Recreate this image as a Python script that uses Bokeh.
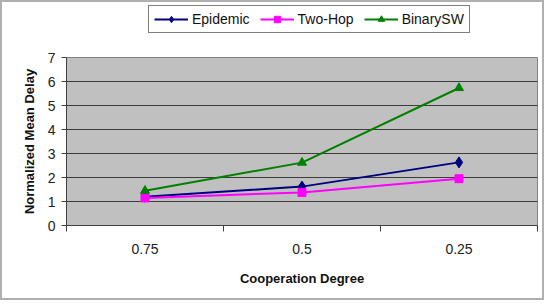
from bokeh.plotting import figure
from bokeh.layouts import column
from bokeh.models import Range1d, FixedTicker, Legend, LegendItem
from bokeh.embed import file_html
from bokeh.resources import INLINE

categories = ["0.75", "0.5", "0.25"]
series_names = ["Epidemic", "Two-Hop", "BinarySW"]
epidemic = [1.2, 1.62, 2.63]
two_hop = [1.15, 1.38, 1.95]
binary_sw = [1.45, 2.62, 5.73]

colors = ["#000080", "#ff00ff", "#008000"]
markers = ["diamond", "square", "triangle"]
msizes = [11, 8, 9]

xs = [i + 0.5 for i in range(len(categories))]
series = [epidemic, two_hop, binary_sw]

# main chart
p = figure(width=540, height=257, output_backend="svg", toolbar_location=None,
           x_range=Range1d(0, len(categories)), y_range=Range1d(0, 7),
           min_border_left=64, min_border_right=5, min_border_top=16, min_border_bottom=73)
p.background_fill_color = "#c0c0c0"
p.border_fill_color = "white"
p.outline_line_color = "#808080"

p.xgrid.visible = False
p.ygrid.grid_line_color = "#3c3c3c"
p.ygrid.grid_line_width = 1

p.yaxis.ticker = FixedTicker(ticks=list(range(0, 8)))
p.xaxis.ticker = FixedTicker(ticks=xs, minor_ticks=list(range(0, len(categories) + 1)))
p.xaxis.major_label_overrides = {x: c for x, c in zip(xs, categories)}
p.xaxis.major_tick_out = 0
p.xaxis.major_tick_in = 0
p.xaxis.minor_tick_out = 6
p.xaxis.minor_tick_in = 0
p.yaxis.major_tick_out = 5
p.yaxis.major_tick_in = 0
for ax in (p.xaxis, p.yaxis):
    ax.axis_line_color = "#404040"
    ax.major_tick_line_color = "#404040"
    ax.minor_tick_line_color = "#404040"
    ax.major_label_text_font = "Liberation Sans"
    ax.major_label_text_font_size = "14px"
    ax.major_label_text_color = "#222222"
    ax.axis_label_text_font = "Liberation Sans"
    ax.axis_label_text_font_style = "bold"
    ax.axis_label_text_font_size = "13px"
    ax.axis_label_text_color = "#111111"
p.yaxis.minor_tick_line_color = None
p.xaxis.axis_label = "Cooperation Degree"
p.yaxis.axis_label = "Normalized Mean Delay"
p.xaxis.major_label_standoff = 12
p.xaxis.axis_label_standoff = 14
p.yaxis.major_label_standoff = 6
p.yaxis.axis_label_standoff = 8

for ys, c, m, s in zip(series, colors, markers, msizes):
    p.line(xs, ys, line_color=c, line_width=2)
    p.scatter(xs, ys, marker=m, size=s, fill_color=c, line_color=c)

# legend strip (its own renderers sit outside its visible range)
lg = figure(width=540, height=39, output_backend="svg", toolbar_location=None,
            x_range=Range1d(100, 101), y_range=Range1d(100, 101),
            min_border_left=64, min_border_right=5, min_border_top=0, min_border_bottom=0)
lg.axis.visible = False
lg.grid.visible = False
lg.outline_line_color = None
lg.background_fill_color = "white"
lg.border_fill_color = "white"
items = []
for name, ys, c, m, s in zip(series_names, series, colors, markers, msizes):
    r1 = lg.line(xs, ys, line_color=c, line_width=2)
    r2 = lg.scatter(xs, ys, marker=m, size=s, fill_color=c, line_color=c)
    items.append(LegendItem(label=name, renderers=[r1, r2]))
legend = Legend(items=items, orientation="horizontal", location=(82, 8))
legend.label_text_font = "Liberation Sans"
legend.label_text_font_size = "14px"
legend.label_text_color = "#111111"
legend.border_line_color = "black"
legend.border_line_width = 1
legend.padding = 5
legend.spacing = 10
legend.glyph_width = 34
legend.glyph_height = 16
legend.label_standoff = 4
legend.margin = 0
lg.add_layout(legend, "center")

layout = column(lg, p, spacing=0, styles={"border": "2px solid #b0b0b0"})

open("out.html", "w").write(file_html(layout, INLINE))
